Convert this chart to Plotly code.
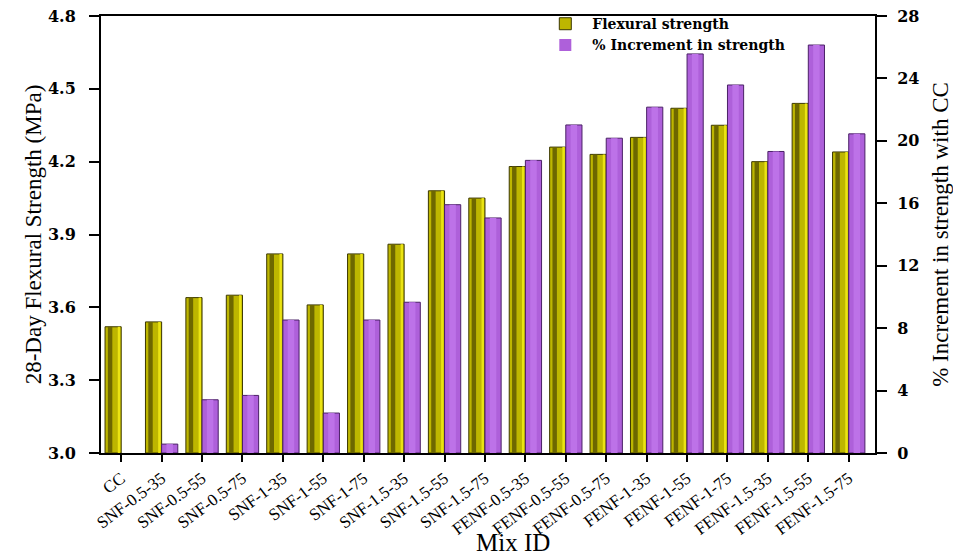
import plotly.graph_objects as go

mix_ids = ["CC", "SNF-0.5-35", "SNF-0.5-55", "SNF-0.5-75", "SNF-1-35", "SNF-1-55",
           "SNF-1-75", "SNF-1.5-35", "SNF-1.5-55", "SNF-1.5-75", "FENF-0.5-35",
           "FENF-0.5-55", "FENF-0.5-75", "FENF-1-35", "FENF-1-55", "FENF-1-75",
           "FENF-1.5-35", "FENF-1.5-55", "FENF-1.5-75"]
flexural_mpa = [3.52, 3.54, 3.64, 3.65, 3.82, 3.61, 3.82, 3.86, 4.08, 4.05,
                4.18, 4.26, 4.23, 4.30, 4.42, 4.35, 4.20, 4.44, 4.24]
increment_pct = [0.0, 0.57, 3.41, 3.69, 8.52, 2.56, 8.52, 9.66, 15.91, 15.06,
                 18.75, 21.02, 20.17, 22.16, 25.57, 23.58, 19.32, 26.14, 20.45]

serif = "Liberation Serif, Times New Roman, serif"
wide_serif = "DejaVu Serif, serif"
n = len(mix_ids)
axis_floor = 3.0
strength_height = [v - axis_floor for v in flexural_mpa]

fig = go.Figure()

# olive strength bars sit left of each tick, starting from the axis floor
fig.add_trace(go.Bar(
    x=mix_ids, y=strength_height, base=[axis_floor] * n, name="Flexural strength",
    yaxis="y", width=0.4, offset=-0.4,
    marker=dict(color="#bdb600", line=dict(color="#3a3600", width=1)),
))
# cylinder-style shading on the olive bars
fig.add_trace(go.Bar(
    x=mix_ids, y=strength_height, base=[axis_floor] * n, yaxis="y",
    width=0.11, offset=-0.33, showlegend=False, hoverinfo="skip",
    marker=dict(color="#6d6700", line=dict(width=0)),
))
fig.add_trace(go.Bar(
    x=mix_ids, y=strength_height, base=[axis_floor] * n, yaxis="y",
    width=0.06, offset=-0.085, showlegend=False, hoverinfo="skip",
    marker=dict(color="#ebe412", line=dict(width=0)),
))
# violet increment bars sit right of each tick
fig.add_trace(go.Bar(
    x=mix_ids, y=increment_pct, name="% Increment in strength", yaxis="y2",
    width=0.4, offset=0.0,
    marker=dict(color="#ae60da",
                line=dict(color="#4a2066", width=[0 if v == 0 else 1 for v in increment_pct])),
))
fig.add_trace(go.Bar(
    x=mix_ids, y=increment_pct, yaxis="y2",
    width=0.16, offset=0.12, showlegend=False, hoverinfo="skip",
    marker=dict(color="#bd72e8", line=dict(width=0)),
))

tick_font = dict(family=wide_serif, size=16, color="black", weight="bold")
title_font = dict(family=serif, size=23, color="black")

fig.update_layout(
    width=953, height=558,
    margin=dict(l=101, r=78, t=16, b=105, autoexpand=False),
    paper_bgcolor="white", plot_bgcolor="white",
    barmode="overlay",
    showlegend=True,
    legend=dict(
        x=0.565, y=1.018, xanchor="left", yanchor="top",
        bgcolor="rgba(0,0,0,0)", tracegroupgap=0,
        font=dict(family=wide_serif, size=14, color="black", weight="bold"),
        itemwidth=44,
    ),
    xaxis=dict(
        type="category", range=[-0.5, 18.65], automargin=False,
        showline=True, linecolor="black", linewidth=2, mirror=True,
        ticks="outside", ticklen=7, tickwidth=2, tickcolor="black",
        tickangle=-37, tickfont=dict(family=serif, size=17, color="black"),
        showgrid=False,
    ),
    yaxis=dict(
        range=[3.0, 4.8], dtick=0.3, tick0=3.0, tickformat=".1f", automargin=False,
        showline=True, linecolor="black", linewidth=2,
        ticks="outside", ticklen=10, tickwidth=2, tickcolor="black",
        ticklabelstandoff=10,
        tickfont=tick_font, showgrid=False, zeroline=False,
        title=dict(text="28-Day Flexural Strength (MPa)", font=title_font, standoff=0),
    ),
    yaxis2=dict(
        overlaying="y", side="right", range=[0, 28], dtick=4, automargin=False,
        showline=True, linecolor="black", linewidth=2,
        ticks="outside", ticklen=10, tickwidth=2, tickcolor="black",
        ticklabelstandoff=7,
        tickfont=tick_font, showgrid=False, zeroline=False,
        title=dict(text="% Increment in strength with CC", font=title_font, standoff=13),
    ),
    annotations=[dict(
        text="Mix ID", xref="paper", yref="paper", x=0.532, y=-0.238,
        xanchor="center", yanchor="bottom", showarrow=False, borderpad=0,
        font=dict(family=serif, size=25, color="black"),
    )],
)

fig.write_html("out.html")
